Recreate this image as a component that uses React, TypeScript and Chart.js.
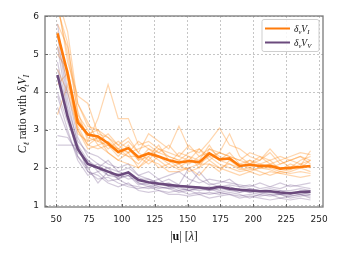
import React, { useEffect, useRef } from "react";
import { Chart, registerables } from "chart.js";
Chart.register(...registerables);

const uValues = [51, 58.7, 66.4, 74.1, 81.8, 89.5, 97.2, 104.9, 112.6, 120.3, 128, 135.7, 143.4, 151.1, 158.8, 166.5, 174.2, 181.9, 189.6, 197.3, 205, 212.7, 220.4, 228.1, 235.8, 243.5];
const xTicks = [50, 75, 100, 125, 150, 175, 200, 225, 250];
const yTicks = [1, 2, 3, 4, 5, 6];

const meanVI = [5.55, 4.5, 3.2, 2.88, 2.83, 2.65, 2.42, 2.52, 2.28, 2.38, 2.3, 2.2, 2.14, 2.18, 2.15, 2.38, 2.22, 2.25, 2.05, 2.08, 2.05, 2.05, 1.98, 2.0, 2.02, 2.05];
const meanVV = [4.45, 3.35, 2.5, 2.1, 2.0, 1.9, 1.8, 1.88, 1.68, 1.62, 1.58, 1.55, 1.52, 1.5, 1.48, 1.45, 1.5, 1.45, 1.42, 1.4, 1.38, 1.38, 1.35, 1.33, 1.36, 1.37];

const thinVI1 = [6.3, 5.0, 3.5, 2.7, 3.3, 4.2, 3.3, 3.3, 2.6, 2.7, 2.5, 2.4, 2.3, 2.6, 2.3, 2.5, 2.4, 2.3, 2.2, 2.4, 2.3, 2.1, 2.2, 2.3, 2.4, 2.35];
const thinVI2 = [5.8, 5.2, 3.7, 3.2, 2.7, 2.9, 2.6, 2.8, 2.4, 2.9, 2.7, 2.5, 3.1, 2.5, 2.4, 2.7, 3.05, 2.6, 2.5, 2.3, 2.2, 2.4, 2.1, 2.2, 2.3, 2.1];
const thinVI3 = [4.6, 4.0, 3.0, 2.5, 2.6, 2.4, 2.2, 2.1, 2.0, 2.2, 2.1, 1.9, 1.9, 2.0, 1.8, 2.1, 2.0, 1.9, 1.8, 1.9, 1.8, 1.9, 1.85, 1.8, 1.75, 1.8];
const thinVI4 = [6.5, 5.6, 3.7, 3.1, 3.0, 2.8, 2.6, 2.4, 2.7, 2.5, 2.4, 2.6, 2.3, 2.2, 2.5, 2.2, 2.4, 2.9, 2.3, 2.1, 2.2, 2.5, 2.2, 2.0, 2.2, 2.3];
const thinVI5 = [5.2, 4.3, 3.3, 2.9, 3.0, 2.6, 2.3, 2.6, 2.2, 2.3, 2.6, 2.2, 2.1, 2.3, 2.2, 2.6, 2.2, 2.4, 2.1, 2.0, 2.1, 2.2, 1.95, 2.1, 2.0, 2.2];
const thinVI6 = [3.4, 4.2, 3.0, 2.6, 2.5, 2.6, 2.4, 2.3, 2.1, 2.4, 2.2, 2.0, 2.1, 1.9, 2.0, 2.2, 2.0, 2.1, 1.95, 2.0, 1.9, 1.8, 1.9, 1.85, 1.9, 1.85];
const thinVI7 = [6.4, 4.8, 3.9, 3.7, 2.9, 2.8, 2.5, 2.7, 2.4, 2.2, 2.5, 2.3, 2.2, 2.1, 2.3, 2.4, 2.2, 2.1, 2.0, 2.2, 2.1, 2.0, 2.1, 2.2, 2.1, 2.0];
const thinVI8 = [5.0, 4.6, 3.3, 2.8, 2.7, 2.6, 2.5, 2.3, 2.3, 2.1, 2.3, 2.2, 2.0, 2.2, 2.1, 2.3, 2.1, 2.0, 1.9, 1.95, 2.0, 1.95, 1.85, 1.9, 2.0, 1.9];
const thinVI9 = [5.6, 4.4, 3.1, 2.6, 2.8, 2.5, 2.7, 2.5, 2.2, 2.5, 2.3, 2.1, 2.4, 2.3, 2.0, 2.5, 2.3, 2.2, 2.1, 2.2, 2.0, 2.1, 2.0, 1.95, 2.1, 2.2];
const thinVI10 = [4.2, 4.5, 2.9, 2.7, 2.8, 2.4, 2.2, 2.4, 2.0, 2.3, 2.0, 2.1, 1.95, 2.0, 2.1, 2.1, 1.9, 2.2, 2.0, 1.9, 2.0, 2.0, 1.9, 1.95, 2.05, 2.45];
const thinVI11 = [6.2, 5.3, 3.4, 3.0, 2.6, 2.7, 2.5, 2.4, 2.5, 2.6, 2.4, 2.3, 2.2, 2.4, 2.5, 2.3, 2.4, 2.3, 2.2, 2.1, 2.3, 2.2, 2.3, 2.2, 2.3, 2.2];

const thinVV1 = [5.8, 4.0, 2.8, 2.3, 2.1, 2.0, 1.9, 1.8, 1.7, 1.7, 1.6, 1.5, 1.55, 1.5, 1.45, 1.4, 1.5, 1.4, 1.35, 1.4, 1.35, 1.3, 1.3, 1.35, 1.3, 1.25];
const thinVV2 = [2.85, 2.8, 2.4, 2.2, 1.9, 2.0, 1.7, 1.9, 1.6, 1.5, 1.55, 1.6, 1.45, 1.4, 1.5, 1.4, 1.45, 1.5, 1.4, 1.35, 1.3, 1.4, 1.3, 1.25, 1.3, 1.35];
const thinVV3 = [2.6, 2.6, 2.6, 1.9, 1.8, 1.6, 1.5, 1.6, 1.4, 1.35, 1.4, 1.3, 1.3, 1.25, 1.3, 1.2, 1.25, 1.3, 1.2, 1.25, 1.2, 1.15, 1.2, 1.15, 1.2, 1.15];
const thinVV4 = [5.2, 3.6, 2.7, 2.4, 2.3, 2.1, 2.0, 2.1, 1.8, 1.9, 1.7, 1.8, 1.9, 1.7, 1.6, 1.7, 1.65, 1.6, 1.55, 1.5, 1.6, 1.5, 1.45, 1.55, 1.5, 1.45];
const thinVV5 = [4.6, 3.4, 2.3, 1.9, 1.7, 1.75, 1.6, 1.5, 1.45, 1.5, 1.4, 1.35, 1.4, 1.3, 1.35, 1.3, 1.35, 1.3, 1.25, 1.3, 1.25, 1.3, 1.2, 1.25, 1.3, 1.2];
const thinVV6 = [4.0, 3.2, 2.5, 2.0, 2.1, 1.8, 1.85, 1.7, 1.75, 1.6, 1.7, 1.5, 1.5, 1.55, 1.9, 1.6, 1.5, 1.55, 1.5, 1.45, 1.4, 1.45, 1.4, 1.4, 1.45, 1.4];
const thinVV7 = [3.9, 3.0, 2.2, 1.8, 1.9, 1.65, 1.7, 1.55, 1.5, 1.45, 1.5, 1.45, 1.35, 1.4, 1.3, 1.35, 1.3, 1.35, 1.3, 1.2, 1.3, 1.25, 1.3, 1.2, 1.25, 1.3];
const thinVV8 = [5.5, 3.8, 2.6, 2.2, 2.0, 2.2, 1.9, 2.0, 1.8, 1.7, 1.6, 1.7, 1.55, 2.0, 1.7, 1.55, 1.6, 1.7, 1.5, 1.55, 1.45, 1.5, 1.6, 1.5, 1.55, 1.6];
const thinVV9 = [3.6, 2.9, 2.3, 2.0, 1.6, 1.9, 1.7, 1.8, 1.6, 1.55, 1.45, 1.5, 1.4, 1.45, 1.4, 1.45, 1.35, 1.4, 1.45, 1.35, 1.4, 1.35, 1.3, 1.3, 1.35, 1.3];
const thinVV10 = [4.8, 3.5, 2.5, 2.1, 2.0, 1.8, 1.75, 1.8, 1.55, 1.6, 1.5, 1.45, 1.5, 1.4, 1.45, 1.5, 1.4, 1.45, 1.35, 1.45, 1.4, 1.35, 1.4, 1.3, 1.4, 1.4];

const thinVI = [thinVI1, thinVI2, thinVI3, thinVI4, thinVI5, thinVI6, thinVI7, thinVI8, thinVI9, thinVI10, thinVI11];
const thinVV = [thinVV1, thinVV2, thinVV3, thinVV4, thinVV5, thinVV6, thinVV7, thinVV8, thinVV9, thinVV10];

const ORANGE = "#ff7b0a";
const PURPLE = "#6b4a7d";
const ORANGE_THIN = "rgba(255,140,30,0.36)";
const PURPLE_THIN = "rgba(110,78,135,0.3)";
const SERIF = "'Liberation Serif', 'DejaVu Serif', serif";

type Part = { t: string; it?: boolean; sub?: boolean; bold?: boolean };

function drawRich(ctx: CanvasRenderingContext2D, parts: Part[], x: number, y: number, size: number, align: "center" | "left") {
  const fontFor = (p: Part) => `${p.it ? "italic " : ""}${p.bold ? "bold " : ""}${p.sub ? size * 0.7 : size}px ${SERIF}`;
  let total = 0;
  const widths = parts.map((p) => {
    ctx.font = fontFor(p);
    const w = ctx.measureText(p.t).width;
    total += w;
    return w;
  });
  let cx = align === "center" ? x - total / 2 : x;
  ctx.textAlign = "left";
  ctx.textBaseline = "alphabetic";
  parts.forEach((p, i) => {
    ctx.font = fontFor(p);
    ctx.fillText(p.t, cx, y + (p.sub ? size * 0.22 : 0));
    cx += widths[i];
  });
}

const decorPlugin = {
  id: "decor",
  afterDraw(chart: any) {
    const ctx: CanvasRenderingContext2D = chart.ctx;
    const { left, right, top, bottom } = chart.chartArea;
    const xs = chart.scales.x;
    const ys = chart.scales.y;
    ctx.save();
    // inward ticks
    ctx.strokeStyle = "#666";
    ctx.lineWidth = 1;
    ctx.beginPath();
    xTicks.forEach((v) => {
      const px = Math.round(xs.getPixelForValue(v)) + 0.5;
      ctx.moveTo(px, bottom);
      ctx.lineTo(px, bottom - 3);
    });
    yTicks.forEach((v) => {
      const py = Math.round(ys.getPixelForValue(v)) + 0.5;
      ctx.moveTo(left, py);
      ctx.lineTo(left + 3, py);
    });
    ctx.stroke();
    // frame
    ctx.strokeStyle = "#7a7a7a";
    ctx.lineWidth = 1.3;
    ctx.strokeRect(left, top, right - left, bottom - top);

    ctx.fillStyle = "#111";
    // x title
    drawRich(ctx, [{ t: "|" }, { t: "u", bold: true }, { t: "| [" }, { t: "λ", it: true }, { t: "]" }], (left + right) / 2, 240, 12, "center");
    // y title
    ctx.save();
    ctx.translate(26, 114);
    ctx.rotate(-Math.PI / 2);
    drawRich(
      ctx,
      [
        { t: "C", it: true },
        { t: "ℓ", it: true, sub: true },
        { t: " ratio with " },
        { t: "δ", it: true },
        { t: "t", it: true, sub: true },
        { t: "V", it: true },
        { t: "I", it: true, sub: true },
      ],
      0,
      0,
      11.5,
      "center"
    );
    ctx.restore();

    // legend
    const lx = 262, ly = 19.5, lw = 57, lh = 32;
    ctx.beginPath();
    const r = 2;
    ctx.moveTo(lx + r, ly);
    ctx.lineTo(lx + lw - r, ly);
    ctx.quadraticCurveTo(lx + lw, ly, lx + lw, ly + r);
    ctx.lineTo(lx + lw, ly + lh - r);
    ctx.quadraticCurveTo(lx + lw, ly + lh, lx + lw - r, ly + lh);
    ctx.lineTo(lx + r, ly + lh);
    ctx.quadraticCurveTo(lx, ly + lh, lx, ly + lh - r);
    ctx.lineTo(lx, ly + r);
    ctx.quadraticCurveTo(lx, ly, lx + r, ly);
    ctx.closePath();
    ctx.fillStyle = "rgba(255,255,255,0.85)";
    ctx.fill();
    ctx.strokeStyle = "#cfcfcf";
    ctx.lineWidth = 1;
    ctx.stroke();

    ctx.lineWidth = 2;
    ctx.strokeStyle = ORANGE;
    ctx.beginPath();
    ctx.moveTo(265, 28.5);
    ctx.lineTo(290, 28.5);
    ctx.stroke();
    ctx.strokeStyle = PURPLE;
    ctx.beginPath();
    ctx.moveTo(265, 42.5);
    ctx.lineTo(290, 42.5);
    ctx.stroke();

    ctx.fillStyle = "#111";
    drawRich(ctx, [{ t: "δ", it: true }, { t: "ν", it: true, sub: true }, { t: "V", it: true }, { t: "I", it: true, sub: true }], 294, 31.5, 9.5, "left");
    drawRich(ctx, [{ t: "δ", it: true }, { t: "ν", it: true, sub: true }, { t: "V", it: true }, { t: "V", it: true, sub: true }], 294, 45.5, 9.5, "left");
    ctx.restore();
  },
};

const toPts = (ys: number[]) => ys.map((y, i) => ({ x: uValues[i], y }));

export default function App() {
  const ref = useRef<HTMLCanvasElement>(null);
  useEffect(() => {
    if (!ref.current) return;
    const datasets: any[] = [
      { data: toPts(meanVI), borderColor: ORANGE, borderWidth: 2.6, order: 0 },
      { data: toPts(meanVV), borderColor: PURPLE, borderWidth: 2.6, order: 0 },
      ...thinVI.map((s) => ({ data: toPts(s), borderColor: ORANGE_THIN, borderWidth: 1.2, order: 2 })),
      ...thinVV.map((s) => ({ data: toPts(s), borderColor: PURPLE_THIN, borderWidth: 1.2, order: 1 })),
    ].map((d) => ({ ...d, pointRadius: 0, tension: 0, fill: false, clip: 0 }));

    const gridOpts = { color: "#b8b8b8", lineWidth: 0.8, drawTicks: false };
    const tickFont = { family: "'DejaVu Sans', sans-serif", size: 9 };
    const chart = new Chart(ref.current, {
      type: "line",
      data: { datasets },
      plugins: [decorPlugin],
      options: {
        animation: false,
        responsive: false,
        maintainAspectRatio: false,
        layout: { padding: { top: 16, right: 17, left: 0, bottom: 0 } },
        plugins: { legend: { display: false }, tooltip: { enabled: false } },
        scales: {
          x: {
            type: "linear",
            min: 41.5,
            max: 253,
            afterBuildTicks: (s: any) => {
              s.ticks = xTicks.map((v) => ({ value: v }));
            },
            afterFit: (s: any) => {
              s.height = 53;
            },
            grid: gridOpts,
            border: { display: false, dash: [2, 2] },
            ticks: { padding: 7, font: tickFont, color: "#222", maxRotation: 0, autoSkip: false },
          },
          y: {
            type: "linear",
            min: 0.965,
            max: 6.01,
            afterBuildTicks: (s: any) => {
              s.ticks = yTicks.map((v) => ({ value: v }));
            },
            afterFit: (s: any) => {
              s.width = 45;
            },
            grid: gridOpts,
            border: { display: false, dash: [2, 2] },
            ticks: { padding: 6, font: tickFont, color: "#222", autoSkip: false },
          },
        },
      } as any,
    });
    return () => chart.destroy();
  }, []);
  return (
    <div style={{ position: "fixed", left: 0, top: 0, width: 340, height: 260, background: "#fff" }}>
      <canvas ref={ref} width={340} height={260} style={{ display: "block" }} />
    </div>
  );
}
